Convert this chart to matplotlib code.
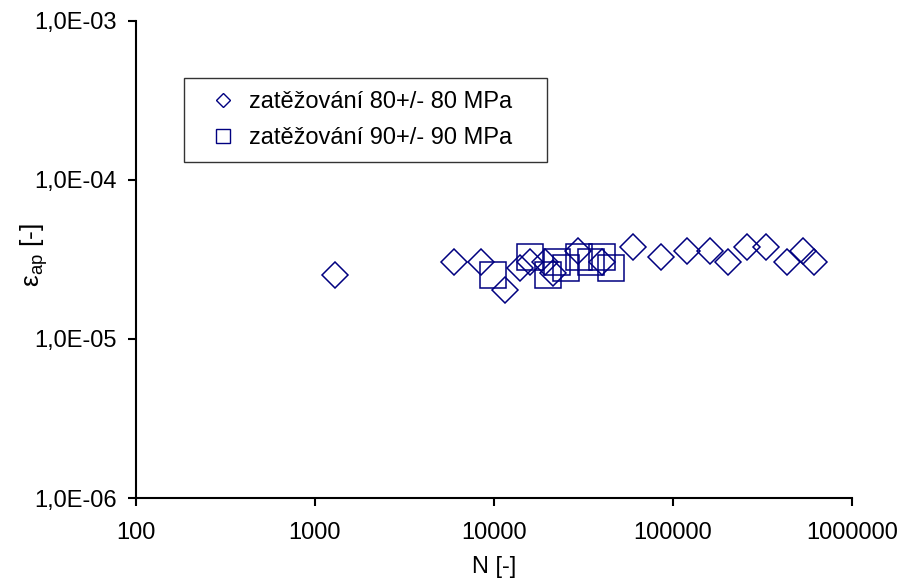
import numpy as np
import matplotlib.pyplot as plt
from matplotlib.lines import Line2D
from matplotlib.ticker import FixedLocator, FuncFormatter, NullLocator

plt.rcParams['font.family'] = ['Liberation Sans', 'DejaVu Sans']
plt.rcParams['mathtext.fontset'] = 'custom'
plt.rcParams['mathtext.rm'] = 'Liberation Sans'

# === Data ===
N_80 = [1290, 6000, 8430, 11500, 13900, 15900, 19300, 21400, 29400, 40000,
        60000, 85400, 119000, 161000, 204000, 260000, 331000, 435000, 530000, 613000]
eps_80 = [2.53e-5, 3.04e-5, 3.04e-5, 2.03e-5, 2.78e-5, 3.07e-5, 3.07e-5, 2.6e-5, 3.58e-5, 3.07e-5,
          3.81e-5, 3.29e-5, 3.56e-5, 3.56e-5, 3.04e-5, 3.81e-5, 3.81e-5, 3.04e-5, 3.56e-5, 3.04e-5]

N_90 = [9900, 15900, 19900, 22400, 25200, 29900, 34700, 40000, 44900]
eps_90 = [2.53e-5, 3.29e-5, 2.53e-5, 3.07e-5, 2.78e-5, 3.29e-5, 3.04e-5, 3.29e-5, 2.78e-5]

label_80 = "zatěžování 80+/- 80 MPa"
label_90 = "zatěžování 90+/- 90 MPa"
color = "#000080"

x_ticks = [1e2, 1e3, 1e4, 1e5, 1e6]
y_ticks = [1e-6, 1e-5, 1e-4, 1e-3]

# === Plot ===
fig = plt.figure(figsize=(9, 5.78), dpi=100)
ax = fig.add_axes([0.1511, 0.1384, 0.7956, 0.8253])

ax.plot(N_80, eps_80, linestyle='none', marker='D', markersize=13.2,
        markerfacecolor='none', markeredgecolor=color, markeredgewidth=1.1)
ax.plot(N_90, eps_90, linestyle='none', marker='s', markersize=18.5,
        markerfacecolor='none', markeredgecolor=color, markeredgewidth=1.1)

ax.set_xscale('log')
ax.set_yscale('log')
ax.set_xlim(1e2, 1e6)
ax.set_ylim(1e-6, 1e-3)

ax.xaxis.set_major_locator(FixedLocator(x_ticks))
ax.xaxis.set_minor_locator(NullLocator())
ax.yaxis.set_major_locator(FixedLocator(y_ticks))
ax.yaxis.set_minor_locator(NullLocator())
ax.xaxis.set_major_formatter(FuncFormatter(lambda v, p: f"{v:.0f}"))
ax.yaxis.set_major_formatter(FuncFormatter(lambda v, p: f"{v:.1E}".replace('.', ',')))

for s in ['top', 'right']:
    ax.spines[s].set_visible(False)
for s in ['left', 'bottom']:
    ax.spines[s].set_linewidth(1.5)
ax.tick_params(direction='out', length=6, width=1.5, labelsize=17)
ax.tick_params(axis='x', pad=11)
ax.tick_params(axis='y', pad=8)

ax.set_xlabel("N [-]", fontsize=17, labelpad=9)
ax.set_ylabel(r"ε$_{\mathrm{ap}}$ [-]", fontsize=19)
ax.yaxis.set_label_coords(-0.12, 0.51)

handles = [
    Line2D([], [], linestyle='none', marker='D', markersize=7,
           markerfacecolor='none', markeredgecolor=color, markeredgewidth=1),
    Line2D([], [], linestyle='none', marker='s', markersize=9.5,
           markerfacecolor='none', markeredgecolor=color, markeredgewidth=1),
]
leg = ax.legend(handles, [label_80, label_90], loc='upper left',
                bbox_to_anchor=(0.067, 0.6, 0.507, 0.2805), mode='expand',
                fontsize=17, frameon=True, fancybox=False, edgecolor='black',
                handlelength=2.2, handletextpad=0.0, borderpad=0.55,
                labelspacing=0.6, borderaxespad=0)
leg.get_frame().set_linewidth(1.0)

plt.savefig("out.png", dpi=100)
